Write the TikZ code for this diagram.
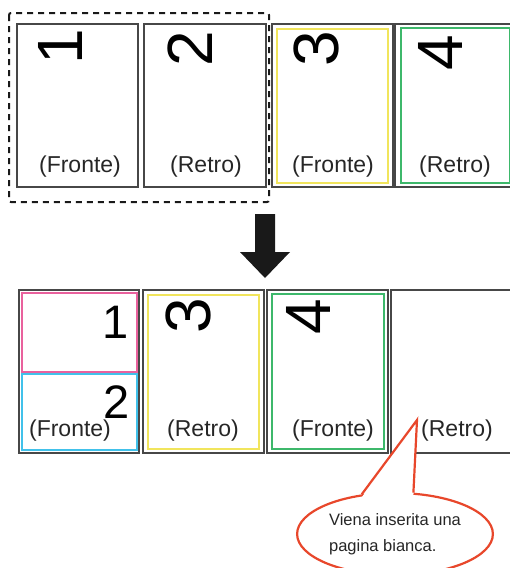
\documentclass[tikz,border=0pt]{standalone}
\usepackage{fontspec}
\setmainfont{Liberation Sans}
\usepackage{tikz}
\usetikzlibrary{shapes.geometric}

\definecolor{pinkline}{HTML}{E9619D}
\definecolor{cyanline}{HTML}{41C1EA}
\definecolor{yellowline}{HTML}{F1E55C}
\definecolor{greenline}{HTML}{3DB86B}
\definecolor{noteline}{HTML}{E8472B}

\begin{document}
\begin{tikzpicture}[
  x=1pt, y=-1pt,
  page/.style={draw=black!72, line width=1.1pt, minimum width=121pt,
               minimum height=163pt, inner sep=0pt},
  frame/.style={line width=1.2pt, inner sep=0pt},
  rotnum/.style={font=\fontsize{64}{64}\selectfont, rotate=90, inner sep=0pt},
  upnum/.style={font=\fontsize{47}{47}\selectfont, inner sep=0pt},
  side/.style={font=\fontsize{23}{23}\selectfont, anchor=base, inner sep=0pt,
               text=black!85},
  note/.style={ellipse, draw=noteline, line width=2.2pt, fill=white,
               minimum width=194pt, minimum height=82pt, align=left,
               font=\fontsize{16.5}{26}\selectfont, text=black!85},
  tail/.style={draw=noteline, line width=2.2pt, line join=miter}
]
  \clip (0,0) rectangle (510,568);

  % ========== TOP ROW: original pages ==========
  \node[page] (p1) at (77.5, 105.5) {};
  \node[page, minimum width=122pt] (p2) at (205, 105.5) {};
  \node[page] (p3) at (332.5, 105.5) {};
  \node[frame, draw=yellowline, minimum width=111pt, minimum height=154pt]
    (p3in) at (332.5, 106) {};
  \node[page] (p4) at (455.5, 105.5) {};
  \node[frame, draw=greenline, minimum width=109pt, minimum height=155pt]
    (p4in) at (455.5, 105.5) {};

  \node[rotnum] (n1) at (60, 47) {1};
  \node[rotnum] (n2) at (190, 49) {2};
  \node[rotnum] (n3) at (316, 49) {3};
  \node[rotnum] (n4) at (440, 53) {4};

  \node[side] (f1) at (80, 172) {(Fronte)};
  \node[side] (r2) at (206, 172) {(Retro)};
  \node[side] (f3) at (333, 172) {(Fronte)};
  \node[side] (r4) at (455, 172) {(Retro)};

  % dashed group round pages 1 and 2
  \draw[black!90, line width=2pt, dash pattern=on 6pt off 5pt,
        rounded corners=2pt] (9,13) rectangle (269,202);

  % ========== ARROW ==========
  \coordinate (down) at (265, 278);
  \fill[black!90] (down) -- ++(-25,-26) -- ++(15,0) -- ++(0,-38)
    -- ++(20,0) -- ++(0,38) -- ++(15,0) -- cycle;

  % ========== BOTTOM ROW: printed sheets ==========
  \node[page, minimum width=120pt] (s1) at (79, 371.5) {};
  \node[frame, draw=pinkline, minimum width=115pt, minimum height=79pt]
    (s1top) at (79.5, 332.5) {};
  \node[frame, draw=cyanline, minimum width=115pt, minimum height=76pt]
    (s1bot) at (79.5, 412) {};
  \node[page] (s2) at (203.5, 371.5) {};
  \node[frame, draw=yellowline, minimum width=111pt, minimum height=154pt]
    (s2in) at (203.5, 372) {};
  \node[page] (s3) at (327.5, 371.5) {};
  \node[frame, draw=greenline, minimum width=112pt, minimum height=155pt]
    (s3in) at (328, 371.5) {};
  \node[page] (s4) at (451.5, 371.5) {};

  \node[upnum] (m1) at (116, 322) {1};
  \node[upnum] (m2) at (117, 402) {2};
  \node[rotnum] (m3) at (188, 316) {3};
  \node[rotnum] (m4) at (308, 317) {4};

  \node[side] (g1) at (70, 436) {(Fronte)};
  \node[side] (h2) at (203, 436) {(Retro)};
  \node[side] (g3) at (333, 436) {(Fronte)};
  \node[side] (h4) at (457, 436) {(Retro)};

  % ========== NOTE ==========
  \node[note] (blank) at (395, 534) {Viena inserita una\\pagina bianca.};
  \coordinate (tip) at (417, 420);
  \fill[white] ([yshift=-3pt]blank.130) -- (tip) -- ([yshift=-3pt]blank.66)
    -- cycle;
  \draw[tail] (blank.130) -- (tip) -- (blank.66);

\end{tikzpicture}
\end{document}
